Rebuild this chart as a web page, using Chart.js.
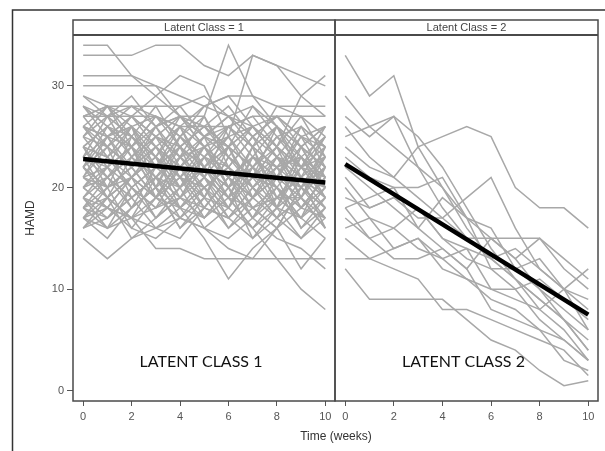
<!DOCTYPE html>
<html>
<head>
<meta charset="utf-8">
<script src="https://cdn.jsdelivr.net/npm/chart.js@4"></script>
<style>
  html, body { margin: 0; padding: 0; background: #fff; }
  #wrap { position: relative; width: 605px; height: 451px; }
  canvas { position: absolute; left: 0; top: 0; }
</style>
</head>
<body>
<div id="wrap">
  <canvas id="class1" width="605" height="451"></canvas>
  <canvas id="class2" width="605" height="451"></canvas>
</div>
<script>
const weeks = [0, 1, 2, 3, 4, 5, 6, 7, 8, 9, 10];
const meanWeeks = [0, 10];
const xTicks = [0, 2, 4, 6, 8, 10];
const yTicks = [0, 10, 20, 30];
const panelTitles = ['Latent Class = 1', 'Latent Class = 2'];
const panelLabels = ['LATENT CLASS 1', 'LATENT CLASS 2'];

const class1Mean = [22.8, 20.5];
const class2Mean = [22.3, 7.5];

// HAMD per subject, weeks 0..10
const class1Subjects = [
  [34, 34, 31, 30, 27, 26, 24, 26, 23, 21, 20],
  [33, 33, 33, 34, 34, 32, 31, 33, 32, 29, 27],
  [26, 25, 24, 26, 27, 27, 34, 29, 26, 24, 22],
  [31, 31, 31, 29, 27, 25, 26, 24, 22, 23, 21],
  [30, 30, 30, 30, 29, 28, 29, 26, 24, 29, 31],
  [24, 23, 26, 27, 25, 28, 29, 29, 28, 28, 28],
  [29, 28, 27, 29, 31, 30, 25, 33, 32, 31, 30],
  [27, 28, 28, 28, 28, 29, 27, 26, 27, 25, 26],
  [15, 13, 15, 16, 18, 17, 19, 16, 18, 17, 19],
  [17, 16, 17, 14, 14, 13, 13, 13, 13, 13, 13],
  [20, 18, 17, 19, 18, 15, 11, 14, 16, 18, 17],
  [22, 20, 21, 19, 17, 19, 18, 16, 13, 10, 8],
  [18, 17, 19, 16, 17, 16, 15, 17, 15, 14, 12],
  [16, 18, 16, 15, 17, 16, 14, 13, 16, 12, 15],
  [25, 22, 24, 21, 23, 20, 22, 19, 21, 20, 22],
  [19, 21, 18, 22, 20, 23, 19, 21, 18, 20, 17],
  [23, 25, 21, 24, 22, 19, 23, 20, 22, 18, 21],
  [21, 19, 23, 20, 25, 22, 20, 24, 19, 21, 19],
  [27, 24, 26, 23, 21, 24, 22, 25, 23, 22, 24],
  [18, 20, 22, 19, 21, 18, 21, 18, 20, 17, 20],
  [24, 26, 23, 25, 23, 21, 24, 22, 25, 23, 21],
  [20, 23, 20, 18, 19, 21, 17, 20, 17, 19, 16],
  [26, 23, 25, 22, 24, 26, 23, 21, 24, 22, 23],
  [22, 24, 19, 21, 20, 24, 21, 23, 21, 24, 20],
  [17, 19, 21, 23, 18, 20, 16, 19, 22, 18, 21],
  [28, 26, 24, 27, 25, 23, 26, 24, 22, 25, 23],
  [23, 21, 24, 19, 22, 25, 20, 22, 19, 21, 18],
  [19, 17, 20, 22, 24, 21, 18, 23, 20, 16, 19],
  [25, 27, 25, 23, 26, 22, 25, 21, 23, 20, 22],
  [21, 22, 18, 20, 16, 18, 21, 17, 19, 22, 20],
  [24, 20, 22, 25, 21, 19, 24, 19, 21, 19, 24],
  [16, 19, 17, 18, 20, 22, 19, 18, 16, 20, 18],
  [26, 25, 27, 24, 26, 24, 21, 23, 26, 21, 25],
  [20, 18, 21, 17, 19, 17, 20, 15, 18, 15, 17],
  [22, 25, 22, 26, 23, 27, 23, 26, 24, 22, 21],
  [28, 27, 29, 26, 28, 25, 27, 28, 25, 26, 24],
  [18, 21, 19, 21, 17, 20, 22, 20, 17, 21, 16],
  [23, 19, 21, 23, 20, 22, 18, 21, 20, 18, 20],
  [27, 28, 25, 28, 24, 26, 28, 25, 27, 24, 26],
  [20, 22, 24, 20, 22, 20, 17, 19, 23, 19, 22],
  [24, 23, 20, 22, 25, 23, 25, 22, 20, 23, 19],
  [19, 16, 18, 20, 16, 19, 16, 18, 19, 17, 15],
  [25, 24, 27, 25, 27, 24, 26, 27, 24, 27, 23],
  [21, 24, 22, 19, 23, 21, 19, 23, 22, 20, 23],
  [17, 20, 16, 19, 21, 17, 20, 17, 21, 16, 18],
  [26, 28, 26, 24, 22, 25, 23, 21, 26, 24, 26],
  [22, 20, 25, 23, 19, 23, 21, 19, 21, 25, 21],
  [28, 26, 28, 27, 26, 28, 27, 24, 28, 27, 25],
  [23, 27, 23, 21, 24, 22, 24, 26, 23, 20, 24],
  [18, 16, 20, 18, 22, 18, 17, 20, 18, 22, 19],
  [29, 27, 28, 26, 27, 24, 25, 26, 23, 26, 24],
  [24, 21, 23, 26, 22, 24, 20, 24, 26, 22, 25],
  [19, 22, 20, 17, 20, 16, 18, 22, 20, 18, 21],
  [26, 24, 22, 24, 20, 22, 24, 20, 22, 23, 20],
  [21, 25, 26, 22, 26, 21, 26, 23, 21, 26, 22],
  [17, 15, 18, 20, 18, 21, 19, 16, 19, 19, 17],
  [27, 27, 27, 27, 26, 26, 26, 27, 27, 27, 27],
  [22, 19, 17, 21, 18, 20, 22, 18, 16, 20, 18],
  [25, 28, 24, 22, 25, 27, 22, 25, 21, 24, 22],
  [20, 21, 23, 25, 24, 19, 23, 21, 24, 21, 23],
  [23, 22, 26, 20, 24, 22, 19, 24, 18, 23, 20],
  [18, 19, 15, 17, 19, 22, 20, 17, 20, 17, 22],
  [28, 25, 27, 25, 23, 25, 24, 22, 25, 22, 26],
  [16, 17, 19, 21, 19, 18, 21, 19, 17, 19, 16],
  [24, 26, 25, 23, 27, 25, 27, 25, 27, 25, 24],
  [21, 20, 22, 24, 21, 23, 22, 20, 23, 21, 19],
  [26, 23, 21, 23, 21, 20, 18, 22, 24, 19, 23],
  [19, 18, 21, 19, 23, 24, 20, 22, 18, 24, 20],
  [22, 26, 24, 27, 24, 26, 24, 28, 26, 23, 25],
  [17, 18, 17, 16, 15, 18, 17, 15, 17, 15, 18]
];

const class2Subjects = [
  [33, 29, 31, 24, 20, 16, 13, 11, 9, 7, 4],
  [29, 26, 24, 22, 18, 15, 15, 13, 10, 8, 6],
  [27, 25, 27, 22, 20, 17, 12, 12, 13, 10, 9],
  [25, 26, 27, 25, 22, 18, 14, 11, 8, 6, 3],
  [24, 22, 21, 24, 25, 26, 25, 20, 18, 18, 16],
  [23, 21, 20, 20, 21, 17, 15, 15, 15, 13, 11],
  [21, 18, 19, 17, 17, 19, 21, 16, 12, 10, 12],
  [19, 18, 19, 18, 15, 14, 13, 11, 9, 7, 5],
  [18, 19, 20, 16, 14, 12, 15, 13, 15, 12, 10],
  [17, 15, 16, 18, 15, 13, 12, 10, 11, 9, 7],
  [16, 17, 16, 14, 13, 14, 10, 9, 8, 10, 6],
  [15, 13, 14, 15, 13, 11, 10, 10, 7, 5, 3],
  [13, 13, 12, 11, 8, 8, 7, 6, 5, 4, 1.5],
  [12, 9, 9, 9, 9, 7, 5, 4, 2, 0.5, 1],
  [20, 17, 14, 15, 12, 11, 9, 8, 6, 3, 2],
  [26, 23, 21, 19, 17, 15, 13, 14, 12, 10, 8],
  [22, 20, 18, 16, 19, 17, 16, 12, 10, 7, 4],
  [18, 15, 13, 13, 14, 12, 8, 7, 6, 5, 3]
];

Chart.defaults.font.family = '"Liberation Sans", Arial, sans-serif';
Chart.defaults.animation = false;

const toPoints = (xs, ys) => xs.map((x, i) => ({ x: x, y: ys[i] }));

const panelFrame = {
  id: 'panelFrame',
  afterDraw(chart, args, opts) {
    const { ctx, chartArea: a } = chart;
    const mid = (a.left + a.right) / 2;
    ctx.save();
    ctx.strokeStyle = '#4a4a4a';
    ctx.lineWidth = 1.5;
    ctx.strokeRect(a.left, 20, a.right - a.left, a.bottom - 20);
    ctx.lineWidth = 2;
    ctx.beginPath();
    ctx.moveTo(a.left, a.top);
    ctx.lineTo(a.right, a.top);
    ctx.stroke();

    ctx.fillStyle = '#444';
    ctx.font = '11px "Liberation Sans", Arial, sans-serif';
    ctx.textAlign = 'center';
    ctx.textBaseline = 'middle';
    ctx.fillText(opts.title, mid, 27.5);

    ctx.fillStyle = '#111';
    ctx.font = '16px Lato, "Open Sans", sans-serif';
    ctx.textBaseline = 'alphabetic';
    ctx.fillText(opts.label, mid - 3, 367);

    if (opts.outer) {
      ctx.strokeStyle = '#333';
      ctx.lineWidth = 1.5;
      ctx.beginPath();
      ctx.moveTo(12.5, 451);
      ctx.lineTo(12.5, 10);
      ctx.lineTo(605, 10);
      ctx.stroke();
      ctx.fillStyle = '#333';
      ctx.font = '12px "Liberation Sans", Arial, sans-serif';
      ctx.textBaseline = 'middle';
      ctx.fillText('Time (weeks)', 336, 437);
    }
    ctx.restore();
  }
};

function makeChart(id, subjects, mean, idx) {
  const first = idx === 0;
  const datasets = [{
    data: toPoints(meanWeeks, mean),
    borderColor: '#000',
    borderWidth: 4.5,
    order: 0
  }].concat(subjects.map(s => ({
    data: toPoints(weeks, s),
    borderColor: '#a8a8a8',
    borderWidth: 1.5,
    order: 1
  })));

  return new Chart(document.getElementById(id), {
    type: 'line',
    data: { datasets: datasets },
    options: {
      responsive: false,
      devicePixelRatio: 1,
      elements: { point: { radius: 0 }, line: { tension: 0 } },
      layout: {
        padding: first
          ? { left: 0, top: 35, right: 270, bottom: 0 }
          : { left: 335, top: 35, right: 7, bottom: 0 }
      },
      plugins: {
        legend: { display: false },
        tooltip: { enabled: false },
        panelFrame: { title: panelTitles[idx], label: panelLabels[idx], outer: first }
      },
      scales: {
        x: {
          type: 'linear',
          min: -0.42,
          max: 10.4,
          afterFit: s => { s.height = 50; },
          afterBuildTicks: s => { s.ticks = xTicks.map(v => ({ value: v })); },
          border: { display: false },
          grid: { drawOnChartArea: false, drawTicks: true, tickLength: 5, tickColor: '#555' },
          ticks: { color: '#555', font: { size: 11 }, padding: 4, maxRotation: 0 }
        },
        y: {
          type: 'linear',
          display: first,
          min: -1,
          max: 35,
          afterFit: s => { s.width = first ? 73 : 0; },
          afterBuildTicks: s => { s.ticks = yTicks.map(v => ({ value: v })); },
          border: { display: false },
          grid: { drawOnChartArea: false, drawTicks: true, tickLength: 6, tickColor: '#555' },
          ticks: { color: '#555', font: { size: 11 }, padding: 3 },
          title: { display: true, text: 'HAMD', color: '#333', font: { size: 12 }, padding: { top: 23, bottom: 0 } }
        }
      }
    },
    plugins: [panelFrame]
  });
}

makeChart('class1', class1Subjects, class1Mean, 0);
makeChart('class2', class2Subjects, class2Mean, 1);
</script>
</body>
</html>
